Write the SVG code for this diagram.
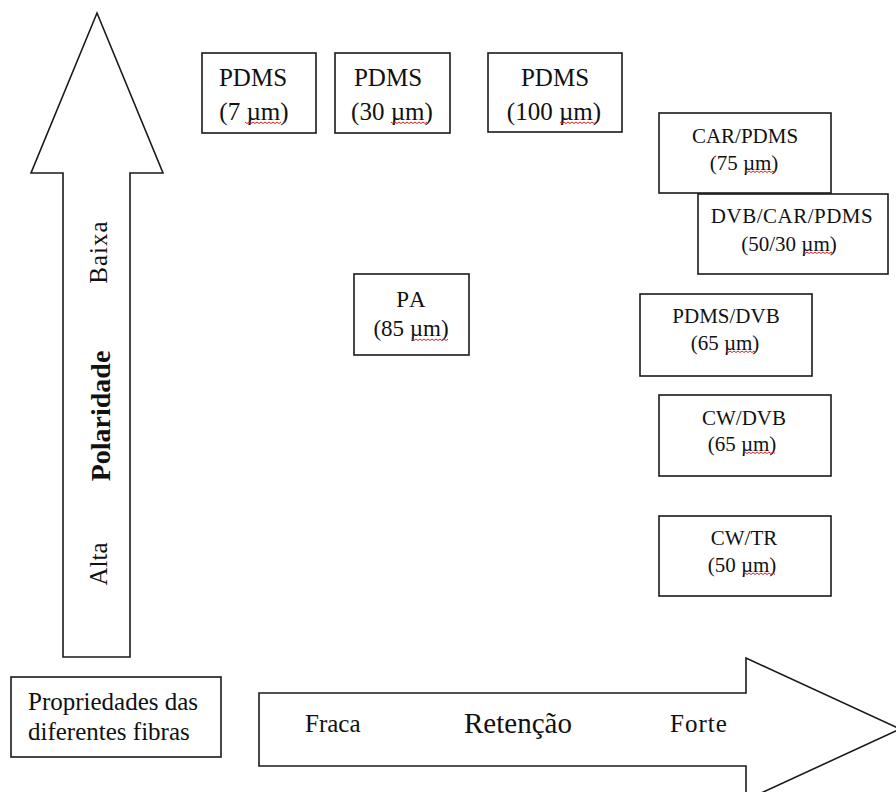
<svg xmlns="http://www.w3.org/2000/svg" xmlns:xlink="http://www.w3.org/1999/xlink" width="896" height="792" viewBox="0 0 896 792">
<style>
.sh{fill:#fff;stroke:#1a1a1a;stroke-width:1.6}
text{font-family:"Liberation Serif","Times New Roman",serif;fill:#111}
.f25{font-size:25px}
.f23{font-size:23px}
.f21{font-size:21px}
.b{font-size:28px;font-weight:bold}
.r{font-size:29px}
.m{text-anchor:middle}
.sq{fill:none;stroke:#e02020;stroke-width:1}
</style>
<defs>
<path id="sq" class="sq" d="M0,0 l2,1.5 2,-1.5 2,1.5 2,-1.5 2,1.5 2,-1.5 2,1.5 2,-1.5 2,1.5 2,-1.5 2,1.5 2,-1.5 2,1.5 2,-1.5 2,1.5 2,-1.5 2,1.5 2,-1.5"/>
<path id="sq2" class="sq" d="M0,0 l2,1.5 2,-1.5 2,1.5 2,-1.5 2,1.5 2,-1.5 2,1.5 2,-1.5 2,1.5 2,-1.5 2,1.5 2,-1.5 2,1.5 2,-1.5 2,1.5"/>
</defs>
<rect width="896" height="792" fill="#fff"/>

<g id="polaridade-arrow">
<path class="sh" d="M63,657 L63,173 L31,173 L97,13 L163,173 L130,173 L130,657 Z"/>
<text class="f25 m" transform="translate(107,252) rotate(-90)" letter-spacing="1">Baixa</text>
<text class="b m" transform="translate(110,416) rotate(-90)">Polaridade</text>
<text class="f25 m" transform="translate(107,564) rotate(-90)">Alta</text>
</g>

<g id="retencao-arrow">
<path class="sh" d="M259,693 L746,693 L746,658 L900,729 L746,800 L746,766 L259,766 Z"/>
<text class="f25" x="305" y="732">Fraca</text>
<text class="r" x="464" y="733">Retenção</text>
<text class="f25" x="670" y="732" letter-spacing="1">Forte</text>
</g>

<g id="legend">
<rect class="sh" x="11" y="677" width="210" height="80"/>
<text class="f25" x="28" y="710">Propriedades das</text>
<text class="f25" x="28" y="740">diferentes fibras</text>
</g>

<g id="pdms7">
<rect class="sh" x="202" y="53" width="114" height="80"/>
<text class="f25 m" x="253" y="86">PDMS</text>
<text class="f25 m" x="254" y="120">(7 µm)</text>
<use xlink:href="#sq" x="245" y="122"/>
</g>

<g id="pdms30">
<rect class="sh" x="335" y="53" width="115" height="80"/>
<text class="f25 m" x="388" y="86">PDMS</text>
<text class="f25 m" x="392" y="120">(30 µm)</text>
<use xlink:href="#sq" x="391" y="122"/>
</g>

<g id="pdms100">
<rect class="sh" x="488" y="53" width="134" height="79"/>
<text class="f25 m" x="555" y="86">PDMS</text>
<text class="f25 m" x="554" y="120">(100 µm)</text>
<use xlink:href="#sq" x="560" y="122"/>
</g>

<g id="car-pdms">
<rect class="sh" x="659" y="113" width="172" height="80"/>
<text class="f21 m" x="745" y="143">CAR/PDMS</text>
<text class="f21 m" x="744" y="170">(75 µm)</text>
<use xlink:href="#sq2" x="745" y="171"/>
</g>

<g id="dvb-car-pdms">
<rect class="sh" x="698" y="194" width="190" height="80"/>
<text class="f21 m" x="792" y="223" letter-spacing="0.5">DVB/CAR/PDMS</text>
<text class="f21 m" x="789" y="251">(50/30 µm)</text>
<use xlink:href="#sq2" x="803" y="252"/>
</g>

<g id="pa">
<rect class="sh" x="354" y="274" width="115" height="81"/>
<text class="f23 m" x="412" y="307" letter-spacing="2">PA</text>
<text class="f23 m" x="411" y="336">(85 µm)</text>
<use xlink:href="#sq" x="412" y="339"/>
</g>

<g id="pdms-dvb">
<rect class="sh" x="640" y="294" width="172" height="82"/>
<text class="f21 m" x="726" y="323">PDMS/DVB</text>
<text class="f21 m" x="725" y="350">(65 µm)</text>
<use xlink:href="#sq2" x="726" y="351"/>
</g>

<g id="cw-dvb">
<rect class="sh" x="659" y="395" width="172" height="81"/>
<text class="f21 m" x="744" y="425">CW/DVB</text>
<text class="f21 m" x="742" y="451">(65 µm)</text>
<use xlink:href="#sq2" x="745" y="452"/>
</g>

<g id="cw-tr">
<rect class="sh" x="659" y="516" width="172" height="80"/>
<text class="f21 m" x="744" y="545">CW/TR</text>
<text class="f21 m" x="742" y="572">(50 µm)</text>
<use xlink:href="#sq2" x="745" y="573"/>
</g>

<g id="connectors"/>
</svg>
